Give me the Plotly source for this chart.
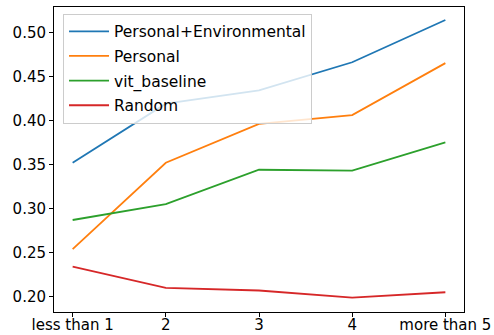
import plotly.graph_objects as go

categories = ["less than 1", "2", "3", "4", "more than 5"]
personal_env = [0.352, 0.419, 0.434, 0.466, 0.514]
personal = [0.254, 0.352, 0.396, 0.406, 0.465]
vit_baseline = [0.287, 0.305, 0.344, 0.343, 0.375]
random_vals = [0.234, 0.210, 0.207, 0.199, 0.205]
y_ticks = [0.20, 0.25, 0.30, 0.35, 0.40, 0.45, 0.50]

series = [
    ("Personal+Environmental", personal_env, "#1f77b4"),
    ("Personal", personal, "#ff7f0e"),
    ("vit_baseline", vit_baseline, "#2ca02c"),
    ("Random", random_vals, "#d62728"),
]

fig = go.Figure()
for i, (name, vals, color) in enumerate(series):
    fig.add_trace(go.Scatter(
        x=list(range(len(categories))), y=vals, name=name, mode="lines",
        line=dict(color=color, width=1.8), legendgroup=f"g{i}",
    ))

font = dict(family="DejaVu Sans", size=15, color="black")
legend_font = dict(family="DejaVu Sans", size=15.5, color="black")
fig.update_layout(
    width=494, height=335,
    margin=dict(l=54, r=30, t=7, b=23, autoexpand=False),
    plot_bgcolor="white", paper_bgcolor="white",
    font=font,
    showlegend=True,
    legend=dict(
        x=0.022, y=0.978, xanchor="left", yanchor="top",
        bgcolor="rgba(255,255,255,0.8)", bordercolor="#cccccc", borderwidth=1,
        font=legend_font, tracegroupgap=1.5, itemwidth=40,
    ),
    xaxis=dict(
        tickmode="array", tickvals=list(range(len(categories))), ticktext=categories,
        range=[-0.2, 4.2], showgrid=False, zeroline=False, automargin=False,
        showline=True, linecolor="black", linewidth=1, mirror=True,
        ticks="outside", ticklen=4, tickcolor="black", ticklabelstandoff=-5,
    ),
    yaxis=dict(
        tickmode="array", tickvals=y_ticks, ticktext=[f"{v:.2f}" for v in y_ticks],
        range=[0.1826, 0.5287], showgrid=False, zeroline=False, automargin=False,
        showline=True, linecolor="black", linewidth=1, mirror=True,
        ticks="outside", ticklen=4, tickcolor="black",
    ),
)

fig.write_html(
    "out.html",
    config={"displayModeBar": False},
    post_script="document.body.style.margin='0';document.body.style.overflow='hidden';",
)
